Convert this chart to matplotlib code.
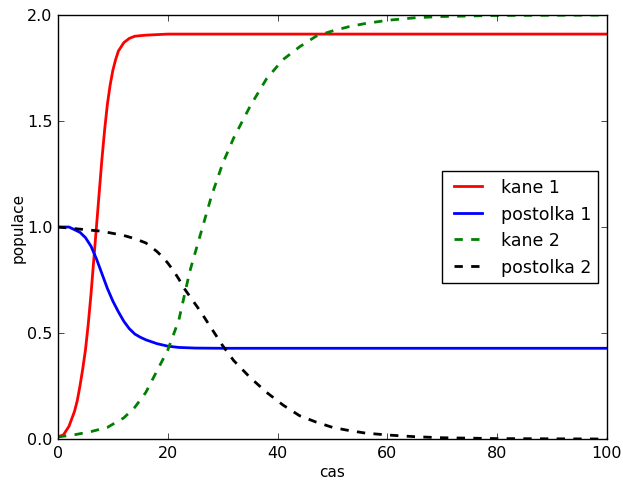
import matplotlib
matplotlib.use("Agg")
import matplotlib.pyplot as plt

plt.style.use("classic")

# values
t_kane1 = [0, 1, 2, 3, 3.5, 4, 4.5, 5, 5.5, 6, 6.5, 7, 7.5, 8, 8.5, 9, 9.5, 10,
           10.5, 11, 11.5, 12, 12.5, 13, 14, 16, 20, 100]
kane1 = [0.01, 0.02, 0.06, 0.13, 0.18, 0.25, 0.33, 0.42, 0.54, 0.68, 0.84, 1.0,
         1.16, 1.32, 1.46, 1.58, 1.67, 1.74, 1.79, 1.83, 1.85, 1.87, 1.88, 1.89,
         1.90, 1.905, 1.91, 1.91]

t_post1 = [0, 2, 4, 5, 6, 7, 8, 9, 10, 11, 12, 13, 14, 15, 16, 18, 20, 22, 25, 30, 100]
post1 = [1.0, 1.0, 0.975, 0.95, 0.91, 0.85, 0.78, 0.71, 0.65, 0.6, 0.555, 0.52,
         0.495, 0.48, 0.468, 0.45, 0.438, 0.432, 0.429, 0.428, 0.428]

t_kane2 = [0, 3, 6, 9, 12, 14, 16, 18, 20, 22, 24, 26, 28, 30, 32, 35, 38, 41,
           44, 47, 50, 53, 56, 60, 65, 70, 80, 100]
kane2 = [0.01, 0.02, 0.035, 0.055, 0.1, 0.15, 0.22, 0.32, 0.42, 0.56, 0.79, 0.97,
         1.15, 1.3, 1.42, 1.57, 1.70, 1.79, 1.85, 1.90, 1.925, 1.945, 1.96, 1.975,
         1.987, 1.993, 1.998, 2.0]

t_post2 = [0, 4, 8, 10, 12, 14, 16, 17, 18, 19, 20, 21, 22, 23, 26, 28, 30, 32,
           35, 38, 41, 44, 47, 50, 53, 56, 60, 65, 70, 80, 90, 100]
post2 = [1.0, 0.99, 0.98, 0.97, 0.96, 0.945, 0.925, 0.905, 0.885, 0.86, 0.83,
         0.795, 0.755, 0.71, 0.6, 0.52, 0.44, 0.37, 0.29, 0.22, 0.16, 0.11, 0.08,
         0.055, 0.04, 0.028, 0.019, 0.011, 0.006, 0.002, 0.001, 0.0]

fig = plt.figure(figsize=(6.23, 4.81), dpi=100, facecolor="white")
ax = fig.add_axes([0.0931, 0.0852, 0.8812, 0.8815])

ax.plot(t_kane1, kane1, "r-", lw=2, label="kane 1")
ax.plot(t_post1, post1, "b-", lw=2, label="postolka 1")
ax.plot(t_kane2, kane2, "g--", lw=2, label="kane 2")
ax.plot(t_post2, post2, "k--", lw=2, label="postolka 2")

ax.set_xlim(0, 100)
ax.set_ylim(0, 2.0)
ax.set_xticks([0, 20, 40, 60, 80, 100])
ax.set_yticks([0.0, 0.5, 1.0, 1.5, 2.0])
ax.tick_params(labelsize=11.5)
ax.set_xlabel("cas", fontsize=11, labelpad=3.5)
ax.set_ylabel("populace", fontsize=11, labelpad=1)
ax.legend(loc="center right", fontsize=12.5, handlelength=2.2)

fig.savefig("out.png", dpi=100, facecolor="white")
